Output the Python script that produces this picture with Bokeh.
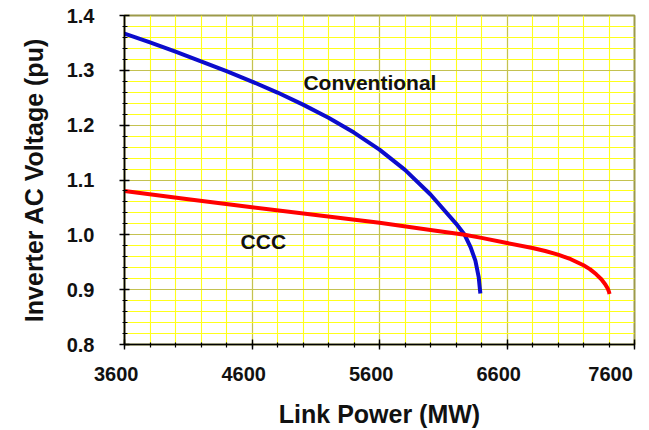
from bokeh.plotting import figure
from bokeh.models import FixedTicker, Label, Range1d
from bokeh.embed import file_html
from bokeh.resources import INLINE
import numpy as np

# Conventional control: link power (MW) vs inverter AC voltage (pu)
conv_power = [3600, 3800, 4000, 4200, 4400, 4600, 4800, 5000, 5200, 5400,
              5600, 5800, 6000, 6200, 6268, 6315, 6352, 6378, 6391]
conv_volt = [1.367, 1.351, 1.334, 1.3165, 1.2985, 1.2795, 1.2595, 1.2375, 1.2135, 1.1865,
             1.1555, 1.1185, 1.0735, 1.0205, 1.000, 0.977, 0.953, 0.923, 0.893]

# Capacitor commutated converter (CCC)
ccc_power = [3600, 4100, 4600, 5100, 5600, 6000, 6268, 6400, 6600, 6800, 6900,
             7000, 7100, 7200, 7250, 7300, 7340, 7370, 7390, 7400, 7404]
ccc_volt = [1.080, 1.065, 1.0505, 1.036, 1.022, 1.009, 1.000, 0.9945, 0.985, 0.976, 0.9705,
            0.964, 0.9555, 0.9445, 0.9375, 0.928, 0.919, 0.910, 0.902, 0.896, 0.892]

x_ticks = [3600, 4600, 5600, 6600, 7600]
y_ticks = [0.8, 0.9, 1.0, 1.1, 1.2, 1.3, 1.4]

FONT = "Liberation Sans"
NBSP = "\u00a0"

p = figure(width=649, height=430, output_backend="svg", toolbar_location=None,
           x_range=Range1d(3600, 7600), y_range=Range1d(0.8, 1.4),
           min_border_left=124, min_border_right=15, min_border_top=15,
           min_border_bottom=81)
p.background_fill_color = "white"
p.border_fill_color = "white"
p.outline_line_color = "#9c9a4a"
p.outline_line_width = 2

x_minor = list(np.arange(3600, 7601, 200))
y_minor = [round(v, 2) for v in np.arange(0.8, 1.4001, 0.02)]
p.xaxis.ticker = FixedTicker(ticks=x_ticks, minor_ticks=x_minor)
p.yaxis.ticker = FixedTicker(ticks=y_ticks, minor_ticks=y_minor)
p.xgrid.ticker = FixedTicker(ticks=x_ticks, minor_ticks=x_minor)
p.ygrid.ticker = FixedTicker(ticks=y_ticks, minor_ticks=y_minor)

for g in (p.xgrid[0], p.ygrid[0]):
    g.grid_line_color = "#c4c250"
    g.grid_line_width = 1.2
    g.minor_grid_line_color = "#ffff1a"
    g.minor_grid_line_width = 1.1

# tick labels (x labels sit slightly left of their ticks)
p.xaxis.major_label_overrides = {t: f"{t}{NBSP * 3}" for t in x_ticks}
p.yaxis.major_label_overrides = {t: f"{t:.1f}" for t in y_ticks}

for ax in (p.xaxis[0], p.yaxis[0]):
    ax.axis_line_color = "black"
    ax.axis_line_width = 1.6
    ax.major_tick_line_color = "black"
    ax.minor_tick_line_color = "black"
    ax.major_tick_line_width = 1.4
    ax.minor_tick_line_width = 1.2
    ax.major_tick_in = 5
    ax.major_tick_out = 5
    ax.major_label_text_font = FONT
    ax.major_label_text_font_style = "bold"
    ax.major_label_text_font_size = "20px"
    ax.major_label_text_color = "#111111"
    ax.axis_label_text_font = FONT
    ax.axis_label_text_font_style = "bold"
    ax.axis_label_text_font_size = "25px"
    ax.axis_label_text_color = "#111111"

p.xaxis.minor_tick_in = 2
p.xaxis.minor_tick_out = 3
p.yaxis.minor_tick_in = 3
p.yaxis.minor_tick_out = 2
p.xaxis.major_label_standoff = 13
p.yaxis.major_label_standoff = 25
p.xaxis.axis_label = "Link Power (MW)"
p.yaxis.axis_label = "Inverter AC Voltage (pu)"
p.xaxis.axis_label_standoff = 12
p.yaxis.axis_label_standoff = 16

p.line(conv_power, conv_volt, line_color="#0c0ccc", line_width=4,
       line_join="round", line_cap="butt")
p.line(ccc_power, ccc_volt, line_color="#ff0000", line_width=4,
       line_join="round", line_cap="butt")

for txt, x, y in (("Conventional", 5525, 1.277), ("CCC", 4689, 0.988)):
    p.add_layout(Label(x=x, y=y, text=txt, text_align="center",
                       text_baseline="alphabetic", text_font=FONT,
                       text_font_style="bold", text_font_size="21px",
                       text_color="#111111"))

open("out.html", "w").write(file_html(p, INLINE))
